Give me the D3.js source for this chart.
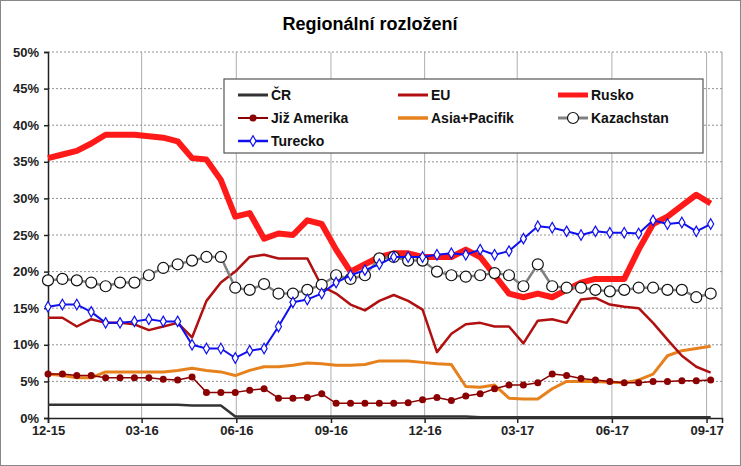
<!DOCTYPE html>
<html><head><meta charset="utf-8">
<script src="https://cdn.jsdelivr.net/npm/d3@7"></script>
<style>body{margin:0;background:#fff;font-family:Arial,"Liberation Sans",sans-serif}</style>
</head><body><div id="chart"></div>
<script>
// biweekly samples from 1.12.2015
var cr = [1.8,1.8,1.8,1.8,1.8,1.8,1.8,1.8,1.8,1.8,1.7,1.7,1.7,0.2,0.2,0.2,0.2,0.2,0.2,0.2,0.2,0.2,0.2,0.2,0.2,0.2,0.2,0.2,0.2,0.2,0.1,0.1,0.1,0.1,0.1,0.1,0.1,0.1,0.1,0.1,0.1,0.1,0.1,0.1,0.1,0.1,0.1];
var eu = [13.7,13.7,12.5,13.5,13,13,12.8,12,12.5,13,11,16,18.5,20,22,22.3,21.8,21.8,21.8,18,17,15.5,14.7,16,16.8,16,14.8,9,11.5,12.8,13,12.5,12.5,10.2,13.3,13.5,13,16.2,16.4,15.5,15.2,15,13,10.7,8.5,7,6.2];
var rusko = [35.5,36,36.5,37.5,38.7,38.7,38.7,38.5,38.3,37.8,35.5,35.3,32.5,27.5,28,24.5,25.2,25,27,26.5,23,20,21,22,22.5,22.5,22,22,22,23,22,19.5,17,16.5,17,16.5,17.5,18.5,19,19,19,23,26.5,27.5,29,30.5,29.3];
var jizAmerika = [6,6,5.8,5.8,5.5,5.5,5.5,5.5,5.3,5.2,5.6,3.5,3.5,3.5,3.8,4,2.7,2.7,2.8,3.3,2,2,2,2,2,2.1,2.5,2.8,2.4,3,3.3,4,4.5,4.5,4.8,6,5.8,5.4,5.2,5,4.8,4.8,5,5,5.1,5.1,5.2];
var asia = [6,5.8,5.5,5.5,6.3,6.3,6.3,6.3,6.3,6.5,6.8,6.5,6.3,5.8,6.5,7,7,7.2,7.5,7.4,7.2,7.2,7.3,7.8,7.8,7.8,7.6,7.4,7.3,4.3,4.2,4.5,2.7,2.6,2.6,4,5,5,5,4.9,4.8,5.2,6,8.5,9.2,9.5,9.8];
var kazach = [18.8,19,18.8,18.5,18,18.5,18.5,19.5,20.5,21,21.5,22,22,17.8,17.5,18.3,17,17,17.5,18.2,19.5,19,19.5,21.8,22,21.5,21.5,20,19.5,19.3,19.5,19.8,19.5,18,21,18,17.8,17.8,17.5,17.3,17.5,17.8,17.8,17.5,17.5,16.5,17];
var turecko = [15.2,15.5,15.5,14.5,13,13,13.2,13.5,13.2,13.2,10,9.5,9.5,8.2,9.2,9.5,12.5,15.8,16.2,17,18.5,19.5,20.2,21,22,22,22,22.3,22.5,22.3,23,22.3,22.8,24.5,26.2,26,25.5,25,25.5,25.3,25.3,25.2,27,26.5,26.7,25.5,26.5];
var tickLabels = ["12-15","03-16","06-16","09-16","12-16","03-17","06-17","09-17"];
var yTicks = [0,5,10,15,20,25,30,35,40,45,50];

var start = new Date(2015, 11, 1);
var dates = cr.map(function(d, i) { return d3.timeDay.offset(start, i * 14); });
var tickDates = tickLabels.map(function(t) {
    var p = t.split("-");
    return new Date(2000 + +p[1], +p[0] - 1, 1);
});

var W = 741, H = 466;
var svg = d3.select("#chart").append("svg").attr("width", W).attr("height", H);
svg.append("rect").attr("x", 0.5).attr("y", 0.5).attr("width", W - 1).attr("height", H - 1)
    .attr("fill", "#fff").attr("stroke", "#888");

var x = d3.scaleTime().domain([start, new Date(2017, 8, 16)]).range([48, 722]);
var y = d3.scaleLinear().domain([0, 50]).range([418, 52]);

svg.append("text").attr("x", 370).attr("y", 30).attr("text-anchor", "middle")
    .attr("font-size", "18px").attr("font-weight", "bold").text("Regionální rozložení");

// grid
svg.selectAll(".hg").data(yTicks.slice(1)).enter().append("line")
    .attr("x1", 48).attr("x2", 722).attr("y1", function(d) { return y(d); }).attr("y2", function(d) { return y(d); })
    .attr("stroke", "#777").attr("stroke-dasharray", "2,2").attr("stroke-width", 0.8);
svg.selectAll(".vg").data(tickDates.slice(1)).enter().append("line")
    .attr("x1", function(d) { return x(d); }).attr("x2", function(d) { return x(d); })
    .attr("y1", 52).attr("y2", 418).attr("stroke", "#999").attr("stroke-width", 0.8);

var yAxis = svg.append("g").attr("transform", "translate(48,0)")
    .call(d3.axisLeft(y).tickValues(yTicks).tickSize(4).tickFormat(function(d) { return d + "%"; }));
var xAxis = svg.append("g").attr("transform", "translate(0,418)")
    .call(d3.axisBottom(x).tickValues(tickDates).tickSize(5).tickFormat(function(d, i) { return tickLabels[i]; }));
[yAxis, xAxis].forEach(function(a) {
    a.selectAll("text").attr("font-size", "13px").attr("font-weight", "bold").attr("fill", "#222")
        .attr("font-family", "Arial, Liberation Sans, sans-serif");
    a.selectAll("path,line").attr("stroke", "#222").attr("stroke-width", 1.5);
});
yAxis.selectAll("text").attr("dx", "-2");
svg.append("line").attr("x1", 722).attr("x2", 722).attr("y1", 52).attr("y2", 418).attr("stroke", "#999");

var series = [
    {name: "ČR", data: cr, color: "#333", width: 2.5},
    {name: "EU", data: eu, color: "#b01010", width: 2.5},
    {name: "Rusko", data: rusko, color: "#ff1a1a", width: 6},
    {name: "Již Amerika", data: jizAmerika, color: "#8b0000", width: 1.5, marker: "dot"},
    {name: "Asia+Pacifik", data: asia, color: "#e6821e", width: 3},
    {name: "Kazachstan", data: kazach, color: "#808080", width: 2.5, marker: "circle"},
    {name: "Turecko", data: turecko, color: "#1010ee", width: 2, marker: "diamond"}
];
var drawOrder = [0, 4, 3, 1, 2, 5, 6];
var line = d3.line().x(function(d, i) { return x(dates[i]); }).y(function(d) { return y(d); });

function marker(g, s, cx, cy) {
    if (s.marker === "dot") {
        g.append("circle").attr("cx", cx).attr("cy", cy).attr("r", 3.5).attr("fill", s.color);
    } else if (s.marker === "circle") {
        g.append("circle").attr("cx", cx).attr("cy", cy).attr("r", 5.5).attr("fill", "#fff").attr("stroke", "#111").attr("stroke-width", 1.2);
    } else if (s.marker === "diamond") {
        g.append("path").attr("d", d3.symbol(d3.symbolDiamond, 32)()).attr("transform", "translate(" + cx + "," + cy + ")")
            .attr("fill", "#fff").attr("stroke", s.color).attr("stroke-width", 1.2);
    }
}

drawOrder.forEach(function(k) {
    var s = series[k];
    var g = svg.append("g");
    g.append("path").datum(s.data).attr("d", line).attr("fill", "none")
        .attr("stroke", s.color).attr("stroke-width", s.width).attr("stroke-linejoin", "round");
    if (s.marker) s.data.forEach(function(v, i) { marker(g, s, x(dates[i]), y(v)); });
});

// legend
var lg = svg.append("g");
lg.append("rect").attr("x", 224).attr("y", 79).attr("width", 479).attr("height", 74)
    .attr("fill", "#fff").attr("stroke", "#555").attr("stroke-width", 1.2);
series.forEach(function(s, j) {
    var lx = 238 + (j % 3) * 160, ly = 95 + Math.floor(j / 3) * 23;
    lg.append("line").attr("x1", lx).attr("x2", lx + 30).attr("y1", ly).attr("y2", ly)
        .attr("stroke", s.color).attr("stroke-width", Math.min(s.width + 0.5, 5));
    marker(lg, s, lx + 15, ly);
    lg.append("text").attr("x", lx + 33).attr("y", ly + 5).attr("font-size", "14px")
        .attr("font-weight", "bold").attr("fill", "#111").text(s.name);
});
</script>
</body></html>
